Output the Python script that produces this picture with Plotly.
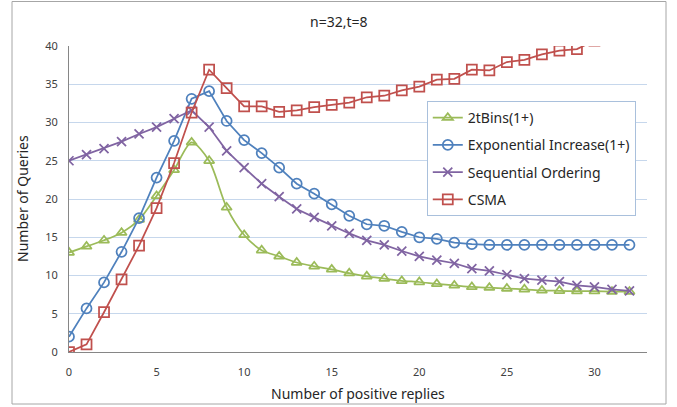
import plotly.graph_objects as go

x_vals = list(range(0, 33))

bins2t = [13.0, 13.8, 14.6, 15.6, 17.3, 20.4, 23.8, 27.4, 25.0, 18.9, 15.3,
          13.3, 12.5, 11.7, 11.2, 10.8, 10.3, 9.9, 9.6, 9.3, 9.15, 8.9,
          8.7, 8.5, 8.4, 8.3, 8.2, 8.05, 8.0, 7.95, 7.95, 7.9, 7.9]

exp_inc = [2.0, 5.7, 9.1, 13.1, 17.5, 22.8, 27.6, 33.1, 34.1, 30.2, 27.7,
           26.0, 24.1, 22.0, 20.7, 19.3, 17.8, 16.7, 16.5, 15.7, 15.0, 14.8,
           14.3, 14.1, 14.0, 14.0, 14.0, 14.0, 14.0, 14.0, 14.0, 14.0, 14.0]

seq_ord = [25.0, 25.8, 26.6, 27.5, 28.5, 29.4, 30.5, 31.6, 29.4, 26.3, 24.1,
           22.0, 20.3, 18.7, 17.6, 16.5, 15.5, 14.6, 14.0, 13.2, 12.5, 12.0,
           11.6, 10.9, 10.6, 10.1, 9.6, 9.4, 9.2, 8.7, 8.5, 8.2, 8.0]

csma = [0.0, 1.0, 5.2, 9.5, 13.9, 18.8, 24.7, 31.3, 36.9, 34.5, 32.1,
        32.1, 31.4, 31.6, 32.0, 32.3, 32.6, 33.3, 33.5, 34.2, 34.7, 35.6,
        35.7, 36.9, 36.8, 37.9, 38.2, 38.9, 39.4, 39.6, 40.7, 41.2, 41.6]

series_names = ["2tBins(1+)", "Exponential Increase(1+)", "Sequential Ordering", "CSMA"]
x_ticks = [0, 5, 10, 15, 20, 25, 30]
y_ticks = [0, 5, 10, 15, 20, 25, 30, 35, 40]

FONT = "Noto Sans"

fig = go.Figure()

styles = [
    (bins2t, "#9BBB59", "triangle-up-open", 9, "spline"),
    (exp_inc, "#4F81BD", "circle-open", 10, "linear"),
    (seq_ord, "#8064A2", "x-thin-open", 9, "linear"),
    (csma, "#C0504D", "square-open", 10, "linear"),
]

for i, (ys, col, sym, sz, shape) in enumerate(styles):
    fig.add_trace(go.Scatter(
        x=x_vals, y=ys, name=series_names[i], mode="lines+markers",
        legendgroup=str(i),
        line=dict(color=col, width=1.75, shape=shape, smoothing=0.8 if shape == "spline" else None),
        marker=dict(symbol=sym, size=sz, color=col, line=dict(color=col, width=1.75)),
    ))

fig.update_layout(
    width=677, height=407,
    margin=dict(l=69, r=30, t=46, b=55),
    paper_bgcolor="white", plot_bgcolor="white",
    font=dict(family=FONT, color="#404040", size=11),
    showlegend=True,
    legend=dict(
        x=0.619, y=0.82, xanchor="left", yanchor="top",
        bgcolor="white", bordercolor="#A9C0DC", borderwidth=1,
        font=dict(family=FONT, size=14, color="#262626"),
        tracegroupgap=6, itemwidth=30,
    ),
    xaxis=dict(
        range=[0, 33], tickvals=x_ticks, showgrid=False, zeroline=False,
        showline=True, linecolor="#868686", linewidth=1,
        ticks="", ticklabelstandoff=10, tickfont=dict(size=11, color="#404040"),
    ),
    yaxis=dict(
        range=[0, 40], tickvals=y_ticks, showgrid=True, gridcolor="#C6D7EC", gridwidth=1,
        zeroline=False, showline=True, linecolor="#868686", linewidth=1,
        ticks="", ticklabelstandoff=8, tickfont=dict(size=11, color="#404040"),
    ),
    annotations=[
        dict(text="n=32,t=8", xref="paper", yref="paper", x=(339 - 69) / 578, y=(352 - 21) / 306,
             showarrow=False, font=dict(size=14, color="#262626", family=FONT), xanchor="center", yanchor="middle"),
        dict(text="Number of positive replies", xref="paper", yref="paper", x=0.5, y=(352 - 393) / 306,
             showarrow=False, font=dict(size=14, color="#262626", family=FONT), xanchor="center", yanchor="middle"),
        dict(text="Number of Queries", xref="paper", yref="paper", x=(22 - 69) / 578, y=0.5, textangle=-90,
             showarrow=False, font=dict(size=14, color="#262626", family=FONT), xanchor="center", yanchor="middle"),
    ],
    shapes=[
        dict(type="rect", xref="paper", yref="paper",
             x0=(12 - 69) / 578, x1=(666 - 69) / 578, y0=(352 - 404) / 306, y1=(352 - 1.5) / 306,
             line=dict(color="#A6A6A6", width=1), fillcolor="rgba(0,0,0,0)", layer="below"),
    ],
)

fig.write_html("out.html")
